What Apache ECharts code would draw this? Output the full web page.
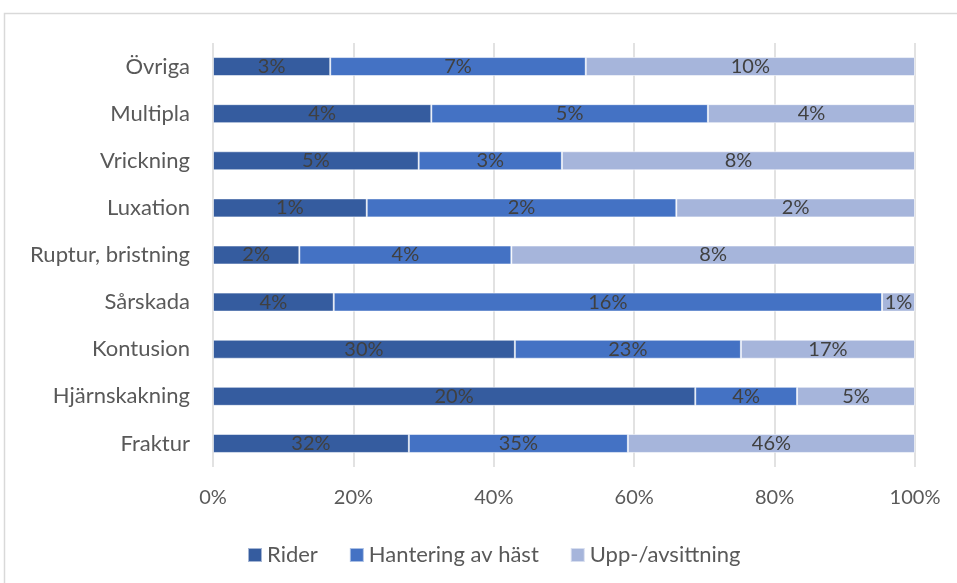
<!DOCTYPE html>
<html>
<head>
<meta charset="utf-8">
<script src="https://cdn.jsdelivr.net/npm/echarts@6/dist/echarts.min.js"></script>
<style>
html,body{margin:0;padding:0;background:#fff;}
#c{width:957px;height:583px;}
</style>
</head>
<body>
<div id="c"></div>
<script>
const categories = ['Övriga','Multipla','Vrickning','Luxation','Ruptur, bristning','Sårskada','Kontusion','Hjärnskakning','Fraktur'];
const seriesNames = ['Rider','Hantering av häst','Upp-/avsittning'];
// share of each row (bar length, %)
const riderShare = [16.7, 31.1, 29.3, 21.9, 12.3, 17.2, 43.0, 68.7, 27.9];
const hanteringShare = [36.4, 39.4, 20.4, 44.1, 30.2, 78.1, 32.2, 14.5, 31.2];
const uppShare = [46.9, 29.5, 50.3, 34.0, 57.5, 4.7, 24.8, 16.8, 40.9];
// printed labels
const riderLabels = ['3%','4%','5%','1%','2%','4%','30%','20%','32%'];
const hanteringLabels = ['7%','5%','3%','2%','4%','16%','23%','4%','35%'];
const uppLabels = ['10%','4%','8%','2%','8%','1%','17%','5%','46%'];
const xTicks = [0,20,40,60,80,100];

const colors = ['#355C9F','#4472C4','#A6B5DB'];
const FONT = 'Lato, "Open Sans", sans-serif';

function mk(name, data, labels, color){
  return {
    name: name, type: 'bar', stack: 'total', barWidth: 19,
    data: data,
    itemStyle: {color: color, borderColor: 'rgba(255,255,255,0.55)', borderWidth: 1},
    label: {
      show: true, position: 'inside', color: '#404040', fontSize: 20, fontFamily: FONT,
      formatter: p => labels[p.dataIndex]
    },
    emphasis: {disabled: true}
  };
}

const chart = echarts.init(document.getElementById('c'), null, {renderer:'canvas'});
chart.setOption({
  animation: false,
  backgroundColor: '#fff',
  graphic: [{
    type: 'rect', shape: {x: 4.5, y: 13.5, width: 1000, height: 600},
    style: {fill: 'none', stroke: '#d9d9d9', lineWidth: 1.5}, silent: true
  }],
  grid: {left: 213, right: 42, top: 43, bottom: 116, containLabel: false},
  xAxis: {
    type: 'value', min: xTicks[0], max: xTicks[xTicks.length-1], interval: 20,
    axisLabel: {formatter: '{value}%', color: '#595959', fontSize: 20, fontFamily: FONT, margin: 21},
    splitLine: {show: true, lineStyle: {color: '#d9d9d9', width: 1.5}},
    axisLine: {show: false}, axisTick: {show: false}
  },
  yAxis: {
    type: 'category', data: categories, inverse: true,
    axisLabel: {color: '#595959', fontSize: 22, fontFamily: FONT, margin: 23},
    axisLine: {show: false}, axisTick: {show: false}
  },
  legend: {
    data: seriesNames, top: 544, left: 247, padding: 0,
    itemWidth: 14, itemHeight: 14, itemGap: 31,
    icon: 'rect',
    textStyle: {color: '#595959', fontSize: 22, fontFamily: FONT}
  },
  series: [
    mk(seriesNames[0], riderShare, riderLabels, colors[0]),
    mk(seriesNames[1], hanteringShare, hanteringLabels, colors[1]),
    mk(seriesNames[2], uppShare, uppLabels, colors[2])
  ]
});
</script>
</body>
</html>
